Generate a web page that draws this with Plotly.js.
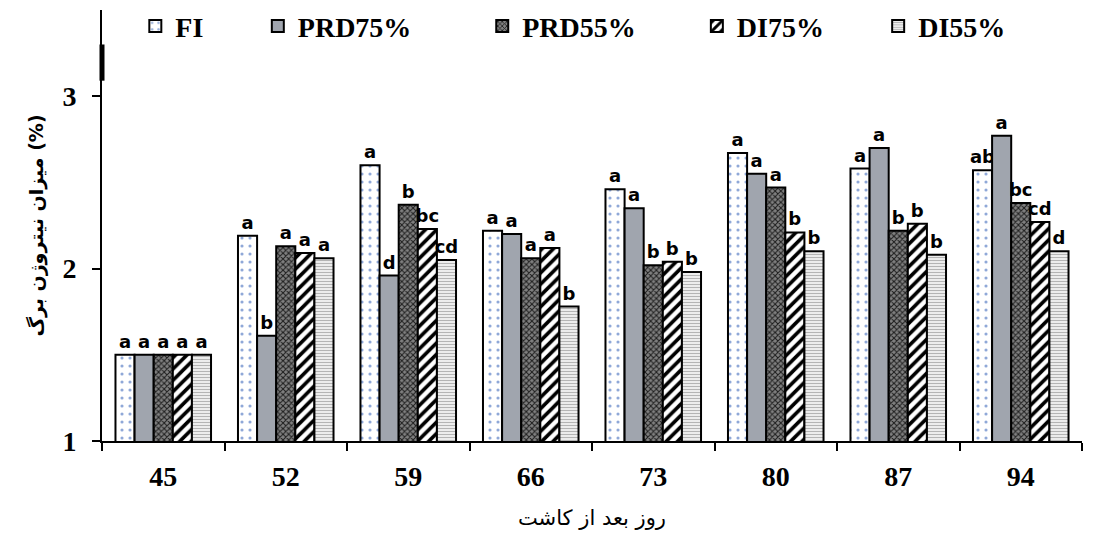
<!DOCTYPE html>
<html>
<head>
<meta charset="utf-8">
<script src="https://cdn.plot.ly/plotly-3.0.1.min.js"></script>
<style>html,body{margin:0;padding:0;background:#fff;}</style>
</head>
<body>
<div id="chart" style="width:1093px;height:536px;"></div>
<script>
const days = ['45','52','59','66','73','80','87','94'];
const seriesNames = ['FI','PRD75%','PRD55%','DI75%','DI55%'];
const FI     = [1.50, 2.19, 2.60, 2.22, 2.46, 2.67, 2.58, 2.57];
const PRD75  = [1.50, 1.61, 1.96, 2.20, 2.35, 2.55, 2.70, 2.77];
const PRD55  = [1.50, 2.13, 2.37, 2.06, 2.02, 2.47, 2.22, 2.38];
const DI75   = [1.50, 2.09, 2.23, 2.12, 2.04, 2.21, 2.26, 2.27];
const DI55   = [1.50, 2.06, 2.05, 1.78, 1.98, 2.10, 2.08, 2.10];
const lettersFI    = ['a','a','a','a','a','a','a','ab'];
const lettersPRD75 = ['a','b','d','a','a','a','a','a'];
const lettersPRD55 = ['a','a','b','a','b','a','b','bc'];
const lettersDI75  = ['a','a','bc','a','b','b','b','cd'];
const lettersDI55  = ['a','a','cd','b','b','b','b','d'];

const values = [FI, PRD75, PRD55, DI75, DI55];
const letters = [lettersFI, lettersPRD75, lettersPRD55, lettersDI75, lettersDI55];
const markers = [
  {color:'#ffffff', pattern:{shape:'.', fgcolor:'#8fa8d8', bgcolor:'#ffffff', size:8, solidity:0.12}},
  {color:'#a0a5ae'},
  {color:'#555555', pattern:{shape:'x', fgcolor:'#1e1e1e', bgcolor:'#808080', size:4, solidity:0.45}},
  {color:'#ffffff', pattern:{shape:'/', fgcolor:'#000000', bgcolor:'#ffffff', size:8, solidity:0.45}},
  {color:'#ffffff', pattern:{shape:'-', fgcolor:'#b4b4b4', bgcolor:'#ffffff', size:3, solidity:0.5}}
];
const legendIds = ['legend','legend2','legend3','legend4','legend5'];
const legendX = [0.034, 0.159, 0.388, 0.607, 0.792];

const traces = seriesNames.map((n,i)=>{
  const m = Object.assign({}, markers[i], {line:{color:'#000', width:2}});
  return {
    type:'bar', name:n, x:days, y:values[i], legend:legendIds[i],
    text:letters[i], textposition:'outside', cliponaxis:false, constraintext:'none',
    textfont:{family:'DejaVu Sans', size:18, color:'#000', weight:'bold'},
    marker:m, hoverinfo:'y+name'
  };
});

const legendFont = {family:'Liberation Serif', size:28, color:'#000', weight:'bold'};
const layout = {
  width:1093, height:536,
  margin:{l:102, r:11, t:10, b:95, autoexpand:false},
  paper_bgcolor:'#fff', plot_bgcolor:'#fff',
  barmode:'group', bargap:0.22, bargroupgap:0,
  showlegend:true,
  xaxis:{type:'category', categoryorder:'array', categoryarray:days,
    showline:true, linecolor:'#000', linewidth:2, mirror:false,
    ticks:'outside', tickson:'boundaries', ticklen:8, tickwidth:2, tickcolor:'#000',
    ticklabelstandoff:9,
    tickfont:{family:'Liberation Serif', size:28, color:'#000', weight:'bold'},
    showgrid:false, zeroline:false,
    title:{text:'روز بعد از کاشت', font:{family:'DejaVu Sans', size:21, color:'#000'}, standoff:20}},
  yaxis:{range:[1,3.5], tickvals:[1,2,3], ticktext:['1','2','3'],
    showline:true, linecolor:'#000', linewidth:2,
    ticks:'outside', ticklen:8, tickwidth:2, tickcolor:'#000',
    ticklabelstandoff:10,
    tickfont:{family:'Liberation Serif', size:28, color:'#000', weight:'bold'},
    showgrid:false, zeroline:false,
    title:{text:'میزان نیتروژن برگ (%)', font:{family:'DejaVu Sans', size:19, color:'#000', weight:'bold'}, standoff:14}},
  shapes:[{type:'line', xref:'paper', yref:'y', x0:0, x1:0, y0:3.09, y1:3.30, line:{color:'#000', width:5}}]
};
legendIds.forEach((id,i)=>{
  layout[id] = {orientation:'h', x:legendX[i], y:1.02, xanchor:'left', yanchor:'top',
    font:legendFont, bgcolor:'rgba(0,0,0,0)', itemwidth:30};
});

Plotly.newPlot('chart', traces, layout, {displayModeBar:false, staticPlot:true});
</script>
</body>
</html>
